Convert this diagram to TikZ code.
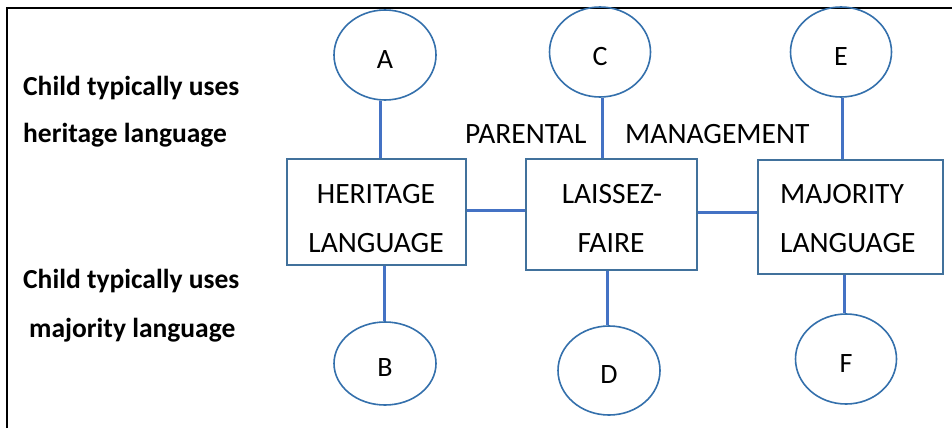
\documentclass[tikz,border=0pt]{standalone}
\usepackage{fontspec}
\setmainfont{Carlito}
\usetikzlibrary{shapes.geometric}
\definecolor{ellblue}{RGB}{52,112,172}
\definecolor{boxblue}{RGB}{65,113,156}
\definecolor{linkblue}{RGB}{68,114,196}
\tikzset{
  oval/.style={ellipse, draw=ellblue, line width=1.6pt, inner sep=0pt, text height=26pt, text depth=0pt, font=\fontsize{28}{30}\selectfont},
  stage/.style={draw=boxblue, line width=1.8pt, inner sep=0pt},
  link/.style={draw=linkblue, line width=3pt},
  side/.style={anchor=base west, inner sep=0pt, font=\bfseries\fontsize{27.5}{30}\selectfont},
  caption/.style={anchor=base west, inner sep=0pt, font=\fontsize{29.5}{30}\selectfont},
  boxtext/.style={anchor=base, inner sep=0pt, font=\fontsize{29.5}{30}\selectfont},
  frame/.style={draw=black, line width=2.2pt}
}
\begin{document}
\begin{tikzpicture}[x=1pt,y=-1pt]
\useasboundingbox (0,0) rectangle (952,428);
\fill[white] (0,0) rectangle (952,428);
% frame
\coordinate (f1) at (7,428);
\coordinate (f2) at (7,8);
\coordinate (f3) at (952,8);
\draw[frame] (f1) -- (f2) -- (f3);
% ovals
\node[oval, minimum width=102pt, minimum height=90pt] (A) at (385,55) {A};
\node[oval, minimum width=101pt, minimum height=90pt] (C) at (600,52) {C};
\node[oval, minimum width=101pt, minimum height=90pt] (E) at (841,52) {E};
\node[oval, minimum width=102pt, minimum height=83pt] (B) at (385,363.5) {B};
\node[oval, minimum width=102pt, minimum height=89pt] (D) at (609,370.5) {D};
\node[oval, minimum width=101pt, minimum height=90pt] (F) at (846,359) {F};
% boxes
\node[stage, minimum width=179pt, minimum height=106pt] (her) at (376.5,212) {};
\node[stage, minimum width=171pt, minimum height=111pt] (lai) at (611.5,214.5) {};
\node[stage, minimum width=185pt, minimum height=114pt] (maj) at (850.5,217) {};
\node[boxtext] (hert1) at (376,203) {HERITAGE};
\node[boxtext] (hert2) at (376,252) {LANGUAGE};
\node[boxtext] (lait1) at (612,203) {LAISSEZ-};
\node[boxtext] (lait2) at (611,252) {FAIRE};
\node[caption] (majt1) at (780,203) {MAJORITY};
\node[caption] (majt2) at (780,252) {LANGUAGE};
% captions
\node[caption] (par) at (465,143) {PARENTAL};
\node[caption] (man) at (625,143) {MANAGEMENT};
\node[side] (s1) at (23,95) {Child typically uses};
\node[side] (s2) at (23,142) {heritage language};
\node[side] (s3) at (23,288) {Child typically uses};
\node[side] (s4) at (29,337) {majority language};
% connectors
\draw[link] (A.south -| 380,0) -- (her.north -| 380,0);
\draw[link] (her.south -| 384,0) -- (B.north -| 384,0);
\draw[link] (C.south -| 602,0) -- (lai.north -| 602,0);
\draw[link] (lai.south -| 607,0) -- (D.north -| 607,0);
\draw[link] (E.south -| 842,0) -- (maj.north -| 842,0);
\draw[link] (maj.south -| 844,0) -- (F.north -| 844,0);
\draw[link] (her.east |- 0,210) -- (lai.west |- 0,210);
\draw[link] (lai.east |- 0,212) -- (maj.west |- 0,212);
\end{tikzpicture}
\end{document}
